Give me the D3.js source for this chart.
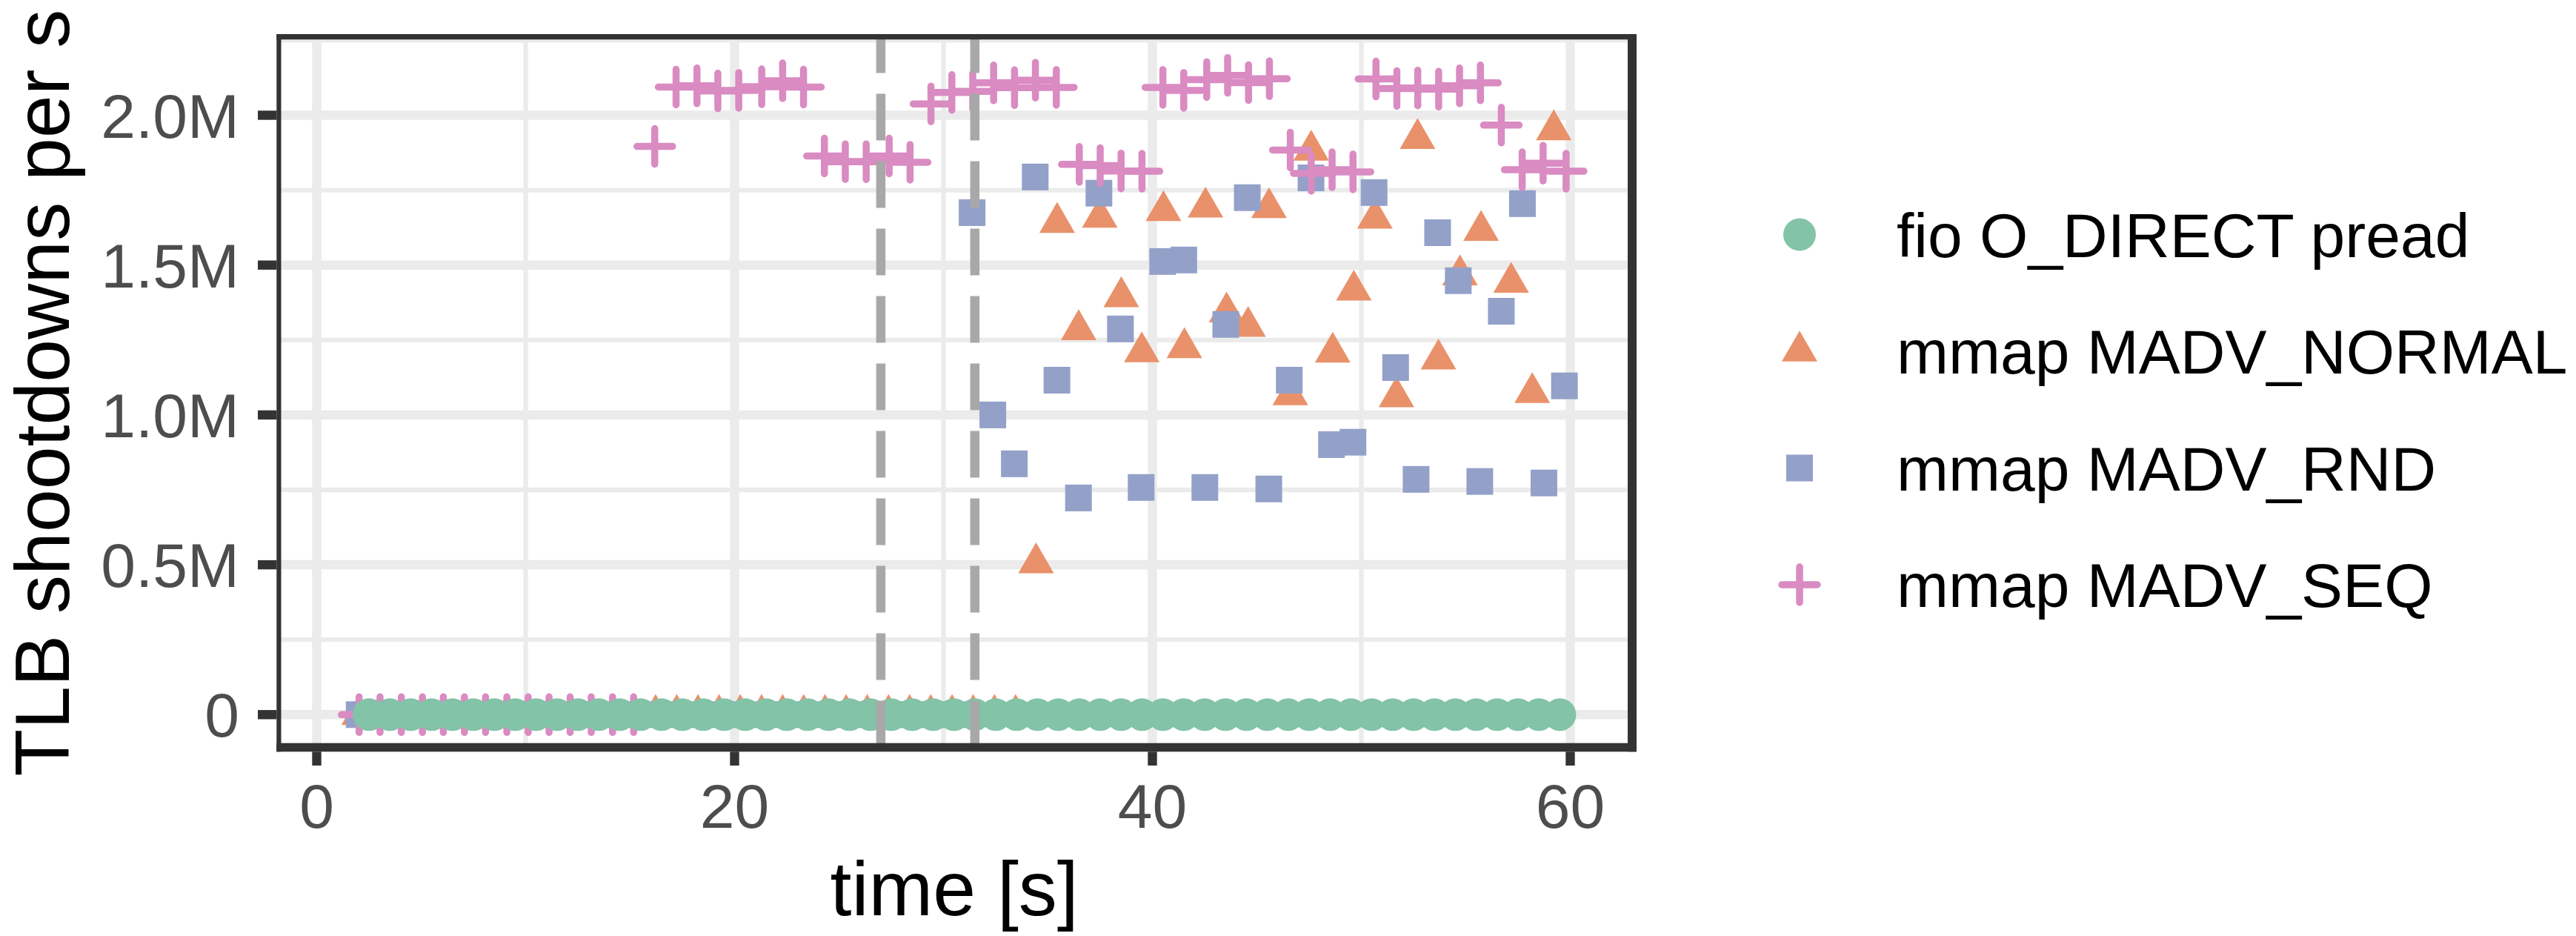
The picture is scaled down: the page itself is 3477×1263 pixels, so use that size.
<!DOCTYPE html>
<html><head><meta charset="utf-8">
<script src="https://cdn.jsdelivr.net/npm/d3@7"></script>
<style>html,body{margin:0;padding:0;background:#fff;} svg{display:block;}</style>
</head><body>
<script>
// ---------------- data ----------------
const seriesNames = ["fio O_DIRECT pread", "mmap MADV_NORMAL", "mmap MADV_RND", "mmap MADV_SEQ"];
const xTicks = [0, 20, 40, 60];
const xMinorTicks = [10, 30, 50];
const yTicks = [0, 0.5, 1.0, 1.5, 2.0];            // millions
const yTickLabels = ["0", "0.5M", "1.0M", "1.5M", "2.0M"];
const yMinorTicks = [0.25, 0.75, 1.25, 1.75, 2.25];
const phaseLines = [27.0, 31.5];
const xTitle = "time [s]";
const yTitle = "TLB shootdowns per s";

// fio O_DIRECT pread (millions)
const fioTime = [2.5,3.5,4.5,5.5,6.5,7.5,8.5,9.5,10.5,11.5,12.5,13.5,14.5,15.5,16.5,17.5,18.5,19.5,20.5,21.5,
  22.5,23.5,24.5,25.5,26.5,27.5,28.5,29.5,30.5,31.5,32.5,33.5,34.5,35.5,36.5,37.5,38.5,39.5,40.5,41.5,
  42.5,43.5,44.5,45.5,46.5,47.5,48.5,49.5,50.5,51.5,52.5,53.5,54.5,55.5,56.5,57.5,58.5,59.5];
const fioValue = [0,0,0,0,0,0,0,0,0,0,0,0,0,0,0,0,0,0,0,0,0,0,0,0,0,0,0,0,0,0,
  0,0,0,0,0,0,0,0,0,0,0,0,0,0,0,0,0,0,0,0,0,0,0,0,0,0,0,0];

// mmap MADV_NORMAL
const normalTime = [2.03,3.04,4.06,5.07,6.08,7.10,8.11,9.12,10.14,11.15,12.17,13.18,14.19,15.21,16.22,17.23,
  18.25,19.26,20.27,21.29,22.30,23.31,24.33,25.34,26.35,27.37,28.38,29.39,30.41,31.42,32.44,33.45,
  34.43,35.44,36.47,37.48,38.51,39.49,40.53,41.53,42.54,43.55,44.58,45.58,46.60,47.60,48.63,49.64,
  50.65,51.68,52.69,53.69,54.72,55.73,57.17,58.18,59.21];
const normalValue = [0,0,0,0,0,0,0,0,0,0,0,0,0,0,0,0,0,0,0,0,0,0,0,0,0,0,0,0,0,0,0,0,
  0.506,1.642,1.284,1.659,1.394,1.210,1.681,1.224,1.693,1.343,1.295,1.691,1.067,1.883,1.209,1.416,
  1.656,1.060,1.922,1.186,1.467,1.615,1.442,1.074,1.951];

// mmap MADV_RND
const rndTime = [2.03,3.04,4.06,5.07,6.08,7.10,8.11,9.12,10.14,11.15,12.17,13.18,14.19,15.21,16.22,17.23,
  18.25,19.26,20.27,21.29,22.30,23.31,24.33,25.34,26.35,27.37,28.38,29.39,30.41,
  31.37,32.36,33.39,34.39,35.43,36.46,37.44,38.47,39.46,40.49,41.50,42.51,43.51,44.54,45.57,46.55,
  47.59,48.57,49.60,50.61,51.64,52.62,53.65,54.64,55.67,56.70,57.71,58.74,59.72];
const rndValue = [0,0,0,0,0,0,0,0,0,0,0,0,0,0,0,0,0,0,0,0,0,0,0,0,0,0,0,0,0,
  1.675,1.000,0.837,1.794,1.116,0.723,1.740,1.287,0.758,1.512,1.517,0.758,1.302,1.725,0.753,1.116,
  1.791,0.901,0.909,1.742,1.158,0.785,1.608,1.448,0.778,1.346,1.705,0.773,1.097];

// mmap MADV_SEQ
const seqTime = [2.03,3.03,4.05,5.06,6.06,7.07,8.08,9.10,10.12,11.12,12.13,13.14,14.16,15.17,
  16.18,17.2,18.2,19.2,20.2,21.3,22.3,23.3,24.3,25.3,26.3,27.4,28.4,29.4,30.4,31.4,32.4,33.4,34.4,35.4,
  36.5,37.5,38.5,39.5,40.5,41.5,42.6,43.6,44.6,45.6,46.6,47.6,48.6,49.6,50.7,51.7,52.7,53.7,54.7,55.7,
  56.7,57.7,58.7,59.8];
const seqValue = [0,0,0,0,0,0,0,0,0,0,0,0,0,0,
  1.896,2.094,2.098,2.081,2.083,2.095,2.115,2.094,1.864,1.845,1.845,1.864,1.843,2.038,2.076,2.080,
  2.108,2.092,2.117,2.093,1.836,1.832,1.814,1.813,2.093,2.083,2.119,2.133,2.109,2.122,1.884,1.806,
  1.818,1.811,2.121,2.089,2.091,2.087,2.098,2.108,1.967,1.818,1.840,1.813];

const colors = ["#83C3A8", "#E9916A", "#93A1C9", "#D98BC2"];

// ---------------- layout ----------------
const W = 3477, H = 1263;
const panel = {left: 373.3, top: 46, right: 2209, bottom: 1014.3};
const x = d3.scaleLinear().domain([0, 60]).range([427.5, 2119.5]);
const y = d3.scaleLinear().domain([0, 2]).range([964.3, 155.5]);

const svg = d3.select("body").append("svg").attr("width", W).attr("height", H);
svg.append("rect").attr("width", W).attr("height", H).attr("fill", "#fff");

svg.append("clipPath").attr("id", "pclip").append("rect")
  .attr("x", panel.left).attr("y", panel.top)
  .attr("width", panel.right - panel.left).attr("height", panel.bottom - panel.top);

const g = svg.append("g").attr("clip-path", "url(#pclip)");

// grid
g.selectAll(".ymin").data(yMinorTicks).join("line")
  .attr("x1", panel.left).attr("x2", panel.right).attr("y1", d => y(d)).attr("y2", d => y(d))
  .attr("stroke", "#EBEBEB").attr("stroke-width", 6.3);
g.selectAll(".xmin").data(xMinorTicks).join("line")
  .attr("y1", panel.top).attr("y2", panel.bottom).attr("x1", d => x(d)).attr("x2", d => x(d))
  .attr("stroke", "#EBEBEB").attr("stroke-width", 6.3);
g.selectAll(".ymaj").data(yTicks).join("line")
  .attr("x1", panel.left).attr("x2", panel.right).attr("y1", d => y(d)).attr("y2", d => y(d))
  .attr("stroke", "#EBEBEB").attr("stroke-width", 12.5);
g.selectAll(".xmaj").data(xTicks).join("line")
  .attr("y1", panel.top).attr("y2", panel.bottom).attr("x1", d => x(d)).attr("x2", d => x(d))
  .attr("stroke", "#EBEBEB").attr("stroke-width", 12.5);

// shapes
const zip = (t, v) => t.map((d, i) => ({t: d, v: v[i]}));
const triPath = "M0,-27.7L24,13.85L-24,13.85Z";

function drawTriangles(sel, data, col) {
  sel.selectAll(null).data(data).join("path")
    .attr("d", triPath).attr("fill", col)
    .attr("transform", d => `translate(${x(d.t)},${y(d.v)})`);
}
function drawSquares(sel, data, col) {
  sel.selectAll(null).data(data).join("rect")
    .attr("x", d => x(d.t) - 18).attr("y", d => y(d.v) - 18)
    .attr("width", 36).attr("height", 36).attr("fill", col);
}
function drawPlus(sel, data, col) {
  const p = sel.selectAll(null).data(data).join("path")
    .attr("d", d => `M${x(d.t) - 24},${y(d.v)}H${x(d.t) + 24}M${x(d.t)},${y(d.v) - 24}V${y(d.v) + 24}`)
    .attr("stroke", col).attr("stroke-width", 9.5).attr("stroke-linecap", "round").attr("fill", "none");
}
function drawCircles(sel, data, col) {
  sel.selectAll(null).data(data).join("circle")
    .attr("cx", d => x(d.t)).attr("cy", d => y(d.v)).attr("r", 22).attr("fill", col);
}

drawTriangles(g.append("g"), zip(normalTime, normalValue), colors[1]);
drawSquares(g.append("g"), zip(rndTime, rndValue), colors[2]);
drawPlus(g.append("g"), zip(seqTime, seqValue), colors[3]);
drawCircles(g.append("g"), zip(fioTime, fioValue), colors[0]);

// phase lines (dashes start at panel bottom)
g.selectAll(".vl").data(phaseLines).join("line")
  .attr("x1", d => x(d)).attr("x2", d => x(d)).attr("y1", 1008.5).attr("y2", panel.top)
  .attr("stroke", "#A8A8A8").attr("stroke-width", 12.5).attr("stroke-dasharray", "63 28");

// panel border
const bc = "#333333";
svg.append("rect").attr("x", 373.3).attr("y", 46).attr("width", 6.2).attr("height", panel.bottom - 46).attr("fill", bc);
svg.append("rect").attr("x", 373.3).attr("y", 46).attr("width", panel.right - 373.3).attr("height", 7.3).attr("fill", bc);
svg.append("rect").attr("x", 2197).attr("y", 46).attr("width", panel.right - 2197).attr("height", panel.bottom - 46).attr("fill", bc);
svg.append("rect").attr("x", 373.3).attr("y", 1002.7).attr("width", panel.right - 373.3).attr("height", 11.6).attr("fill", bc);

// ticks
svg.selectAll(".yt").data(yTicks).join("line")
  .attr("x1", 348).attr("x2", 373.3).attr("y1", d => y(d)).attr("y2", d => y(d))
  .attr("stroke", bc).attr("stroke-width", 12.4);
svg.selectAll(".xt").data(xTicks).join("line")
  .attr("y1", panel.bottom).attr("y2", 1033).attr("x1", d => x(d)).attr("x2", d => x(d))
  .attr("stroke", bc).attr("stroke-width", 12.4);

const font = "'Liberation Sans', Arial, Helvetica, sans-serif";
svg.selectAll(".yl").data(yTicks).join("text")
  .attr("x", 323).attr("y", d => y(d) + 30).attr("text-anchor", "end")
  .attr("font-family", font).attr("font-size", 84).attr("fill", "#4D4D4D")
  .text((d, i) => yTickLabels[i]);
svg.selectAll(".xl").data(xTicks).join("text")
  .attr("x", d => x(d)).attr("y", 1117).attr("text-anchor", "middle")
  .attr("font-family", font).attr("font-size", 84).attr("fill", "#4D4D4D")
  .text(d => d);

// titles
svg.append("text").attr("x", (panel.left + panel.right) / 2 - 3).attr("y", 1235)
  .attr("text-anchor", "middle").attr("font-family", font).attr("font-size", 104).attr("fill", "#000")
  .text(xTitle);
svg.append("text").attr("transform", `translate(93,${(panel.top + panel.bottom) / 2}) rotate(-90)`)
  .attr("text-anchor", "middle").attr("font-family", font).attr("font-size", 104).attr("fill", "#000")
  .text(yTitle);

// legend
const legRows = [316.5, 474, 631.5, 789];
const kx = 2429;
const lg = svg.append("g");
lg.append("circle").attr("cx", kx).attr("cy", legRows[0]).attr("r", 22).attr("fill", colors[0]);
lg.append("path").attr("d", triPath).attr("fill", colors[1]).attr("transform", `translate(${kx},${legRows[1]})`);
lg.append("rect").attr("x", kx - 18).attr("y", legRows[2] - 18).attr("width", 36).attr("height", 36).attr("fill", colors[2]);
lg.append("path").attr("d", `M${kx - 24},${legRows[3]}H${kx + 24}M${kx},${legRows[3] - 24}V${legRows[3] + 24}`)
  .attr("stroke", colors[3]).attr("stroke-width", 9.5).attr("stroke-linecap", "round");
lg.selectAll(".lt").data(seriesNames).join("text")
  .attr("x", 2560).attr("y", (d, i) => legRows[i] + 30)
  .attr("font-family", font).attr("font-size", 84).attr("fill", "#000")
  .text(d => d);
</script>
</body></html>
